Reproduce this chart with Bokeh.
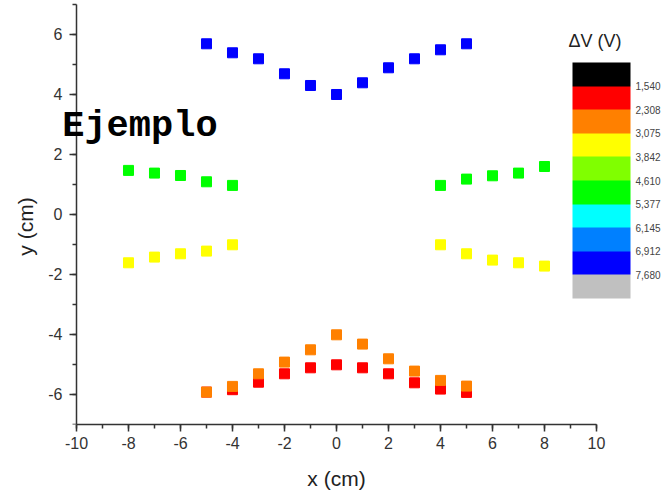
import math
from bokeh.plotting import figure
from bokeh.models import (Range1d, SingleIntervalTicker, ColorBar, LinearColorMapper,
                          FixedTicker, Label, CustomJSTickFormatter, AllLabels)
from bokeh.embed import file_html
from bokeh.resources import INLINE

# ---- data ----
x_blue = [-5, -4, -3, -2, -1, 0, 1, 2, 3, 4, 5]
y_blue = [5.69, 5.39, 5.19, 4.69, 4.30, 4.00, 4.39, 4.89, 5.19, 5.49, 5.69]

x_side = [-8, -7, -6, -5, -4, 4, 5, 6, 7, 8]
y_green = [1.47, 1.38, 1.30, 1.09, 0.97, 0.97, 1.18, 1.29, 1.38, 1.60]
y_yellow = [-1.61, -1.42, -1.31, -1.22, -1.01, -1.01, -1.31, -1.52, -1.61, -1.72]

x_low = [-5, -4, -3, -2, -1, 0, 1, 2, 3, 4, 5]
y_red = [-5.92, -5.84, -5.59, -5.31, -5.11, -5.01, -5.11, -5.31, -5.61, -5.82, -5.93]
y_orange = [-5.92, -5.73, -5.31, -4.92, -4.51, -4.01, -4.32, -4.81, -5.22, -5.53, -5.72]

levels = [1.540, 2.308, 3.075, 3.842, 4.610, 5.377, 6.145, 6.912, 7.680]
band_colors = ["#000000", "#FF0000", "#FF8000", "#FFFF00", "#80FF00",
               "#00FF00", "#00FFFF", "#0080FF", "#0000FF", "#C0C0C0"]  # top -> bottom

c_blue, c_green, c_yellow, c_red, c_orange = "#0000FF", "#00FF00", "#FFFF00", "#FF0000", "#FF8000"

FONT = "Liberation Sans"

p = figure(frame_width=672, frame_height=424, output_backend="svg", toolbar_location=None,
           x_range=Range1d(-12.923, 12.923), y_range=Range1d(-7, 7.133),
           min_border_left=0, min_border_right=0, min_border_top=0, min_border_bottom=0)
p.grid.visible = False
p.outline_line_color = None

sq = dict(marker="square", size=10)
p.scatter(x_blue, y_blue, fill_color=c_blue, line_color=c_blue, **sq)
p.scatter(x_side, y_green, fill_color=c_green, line_color=c_green, **sq)
p.scatter(x_side, y_yellow, fill_color=c_yellow, line_color=c_yellow, **sq)
p.scatter(x_low, y_red, fill_color=c_red, line_color=c_red, **sq)
p.scatter(x_low, y_orange, fill_color=c_orange, line_color=c_orange, **sq)

p.xaxis.bounds = (-10, 10)
p.yaxis.bounds = (-7, 7)
p.yaxis.fixed_location = -10
p.xaxis.ticker = SingleIntervalTicker(interval=2, num_minor_ticks=2)
p.yaxis.ticker = SingleIntervalTicker(interval=2, num_minor_ticks=2)
hyphen_fmt = CustomJSTickFormatter(code="return tick.toFixed(0);")
p.xaxis.formatter = hyphen_fmt
p.yaxis.formatter = hyphen_fmt
p.xaxis.axis_label = "x (cm)"
for ax in (p.xaxis[0], p.yaxis[0]):
    ax.axis_line_color = "#333333"
    ax.axis_line_width = 1.5
    ax.major_tick_line_color = "#333333"
    ax.minor_tick_line_color = "#333333"
    ax.major_tick_line_width = 1.5
    ax.minor_tick_line_width = 1.5
    ax.major_tick_in = 0
    ax.major_tick_out = 7
    ax.minor_tick_in = 0
    ax.minor_tick_out = 4
    ax.major_label_text_font = FONT
    ax.major_label_text_font_size = "16px"
    ax.major_label_text_color = "#333333"
    ax.axis_label_text_font = FONT
    ax.axis_label_text_font_size = "21px"
    ax.axis_label_text_font_style = "normal"
    ax.axis_label_text_color = "#222222"
p.xaxis.major_label_standoff = 5
p.xaxis.axis_label_standoff = 15
p.yaxis.major_label_standoff = 7

# y axis title as a rotated label (placed lower than the axis centre, as in the reference)
p.add_layout(Label(x=-11.96, y=-0.4, text="y (cm)", angle=math.pi / 2,
                   text_font=FONT, text_font_size="21px", text_color="#222222",
                   text_align="center", text_baseline="middle"))

step = (levels[-1] - levels[0]) / (len(levels) - 1)
mapper = LinearColorMapper(palette=band_colors[::-1],
                           low=-(levels[-1] + step), high=-(levels[0] - step))
fmt = CustomJSTickFormatter(code="return (-tick).toFixed(3).replace('.', ',');")
cb = ColorBar(color_mapper=mapper,
              ticker=FixedTicker(ticks=[-v for v in levels]),
              formatter=fmt, major_label_policy=AllLabels(),
              width=58, height=236, padding=0, location=(572, 126),
              major_label_text_font=FONT, major_label_text_font_size="10px",
              major_label_text_color="#444444", label_standoff=5,
              major_tick_line_color=None, minor_tick_line_color=None,
              bar_line_color=None, border_line_color=None, background_fill_color=None)
p.add_layout(cb)

p.add_layout(Label(x=8.923, y=5.77, text="\u0394V (V)", text_font=FONT,
                   text_font_size="18px", text_color="#222222", text_baseline="alphabetic"))

p.add_layout(Label(x=-10.55, y=2.96, text="Ejemplo", text_font="Liberation Mono",
                   text_font_size="37px", text_font_style="bold", text_color="#000000",
                   text_baseline="alphabetic"))

open("out.html", "w").write(file_html(p, INLINE))
